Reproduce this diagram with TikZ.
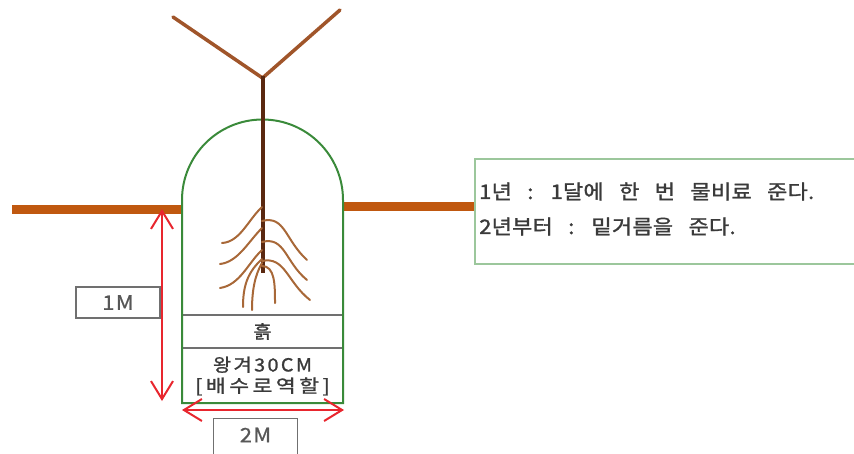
\documentclass[tikz,border=0pt]{standalone}
\usepackage{fontspec}
\usetikzlibrary{arrows.meta}
% Korean faces with a little tracking and a heavier stroke
\newfontfamily\krnote{Noto Sans CJK KR}[FakeBold=1.4,LetterSpace=1,WordSpace=3]
\newfontfamily\krlabel{Noto Sans CJK KR}[FakeBold=1.2,LetterSpace=12]
\newfontfamily\krwide{Noto Sans CJK KR}[FakeBold=1.2,LetterSpace=16]
\newfontfamily\krdim{Noto Sans CJK KR}[FakeBold=0.8,LetterSpace=6]
% horizontally widened text
\newcommand{\widetext}[2][1.1]{\scalebox{#1}[1]{#2}}
\definecolor{soilbar}{HTML}{C0580F}
\definecolor{trunkcol}{HTML}{5A2810}
\definecolor{branchcol}{HTML}{A0552A}
\definecolor{rootcol}{HTML}{A86838}
\definecolor{domecol}{HTML}{3A8A3A}
\definecolor{notecol}{HTML}{9CC79C}
\definecolor{dimcol}{HTML}{E8262E}
\definecolor{boxcol}{HTML}{707070}
\definecolor{txtcol}{HTML}{3A3A3A}
\begin{document}
\begin{tikzpicture}[x=1pt,y=-1pt,
  ground/.style={draw=soilbar,line width=9pt},
  trunkline/.style={draw=trunkcol,line width=4pt},
  branchline/.style={draw=branchcol,line width=3.5pt,line cap=round},
  rootline/.style={draw=rootcol,line width=2pt,line cap=round},
  domeline/.style={draw=domecol,line width=2pt},
  layerbox/.style={draw=boxcol,line width=1.6pt,minimum width=160pt,inner sep=0pt,text=txtcol,font=\krlabel\fontsize{18}{21}\selectfont,align=center},
  dimbox/.style={draw=boxcol,line width=1.4pt,minimum width=84pt,minimum height=31pt,inner sep=0pt,text=txtcol!85,font=\krdim\fontsize{20}{22}\selectfont},
  dimline/.style={draw=dimcol,line width=2pt,{Straight Barb[length=18pt,width=22pt]}-{Straight Barb[length=18pt,width=22pt]}},
  notebox/.style={draw=notecol,line width=1.5pt,inner sep=0pt},
  noteline/.style={anchor=west,inner sep=0pt,text=txtcol,font=\krnote\fontsize{20}{23}\selectfont}
]
\useasboundingbox (0,0) rectangle (854,453);
\clip (0,0) rectangle (854,453);

% ground surface on both sides of the pit
\draw[ground] (12,209) -- (182,209);
\draw[ground] (343,206) -- (474,206);

% care note
\node[notebox,anchor=north west,minimum width=420pt,minimum height=105pt] (note) at (474,158) {};
\node[noteline] (year1) at (479,191.5) {\widetext{1년 : 1달에 한 번 물비료 준다.}};
\node[noteline] (year2) at (479,226.5) {\widetext{2년부터 : 밑거름을 준다.}};

% layers at the bottom of the pit
\node[layerbox,minimum height=33pt] (soil) at (262.5,331.5) {\widetext{흙}};
\node[layerbox,minimum height=55pt] (husk) at (262.5,376) {\widetext{왕겨30CM}\\{\krwide\widetext[1.2]{[배수로역할]}}};

% pit outline with its dome
\draw[domeline] (182,403) -- (182,200) arc[start angle=180,end angle=360,radius=80.5] -- (343,403) -- cycle;

% seedling
\coordinate (fork) at (262.5,78);
\coordinate (base) at (262.5,273);
\coordinate (leftTip) at (173,17);
\coordinate (rightTip) at (340,10);
\draw[branchline] (fork) -- (leftTip);
\draw[branchline] (fork) -- (rightTip);
\draw[trunkline] (262.5,76) -- (base);

% roots
\draw[rootline] (262,207) .. controls (248,220) and (240,242) .. (222,243);
\draw[rootline] (262,228) .. controls (248,242) and (238,262) .. (220,264);
\draw[rootline] (262,250) .. controls (248,263) and (240,285) .. (220,288);
\draw[rootline] (262,259) .. controls (248,272) and (243,285) .. (243,307);
\draw[rootline] (262,263) .. controls (255,275) and (252,290) .. (252,310);
\draw[rootline] (262,221) .. controls (285,215) and (285,240) .. (307,260);
\draw[rootline] (262,242) .. controls (285,236) and (285,262) .. (307,280);
\draw[rootline] (262,261) .. controls (285,256) and (287,282) .. (310,300);
\draw[rootline] (262,266) .. controls (275,266) and (275,285) .. (275,303);

% dimensions
\coordinate (depthTop) at (162,209);
\coordinate (depthBot) at (162,401);
\coordinate (widthL) at (182,410);
\coordinate (widthR) at (344,410);
\draw[dimline] (depthTop) -- (depthBot);
\draw[dimline] (widthL) -- (widthR);
\node[dimbox] (depth) at (118,302.5) {\widetext{1M}};
\node[dimbox,anchor=north,minimum height=50pt] (width) at (255.5,418) {};
\node[inner sep=0pt,text=txtcol!85,font=\krdim\fontsize{20}{22}\selectfont] (widthText) at (255.5,435) {\widetext{2M}};
\end{tikzpicture}
\end{document}
